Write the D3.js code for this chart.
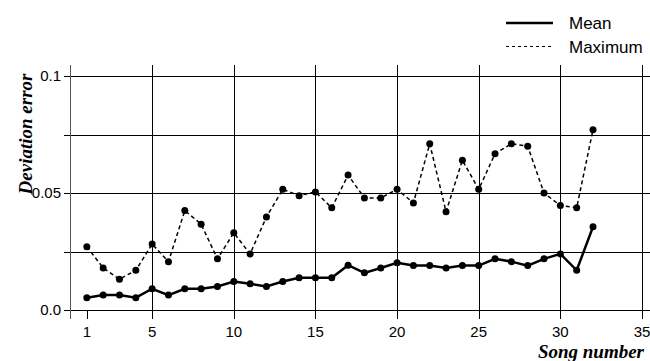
<!DOCTYPE html>
<html><head><meta charset="utf-8">
<script src="https://cdn.jsdelivr.net/npm/d3@7"></script>
<style>html,body{margin:0;padding:0;background:#fff;}svg{display:block;}</style>
</head><body><svg id="c" width="650" height="361"></svg>
<script>
const songs = d3.range(1, 33);
const meanValues = [0.0054,0.0065,0.0065,0.0054,0.0092,0.0065,0.0092,0.0092,0.0102,0.0123,
  0.0113,0.0102,0.0123,0.0139,0.0139,0.0139,0.0193,0.0160,0.0181,0.0203,
  0.0191,0.0191,0.0181,0.0191,0.0191,0.0220,0.0208,0.0191,0.0220,0.0241,0.0171,0.0357];
const maxValues = [0.0272,0.0181,0.0133,0.0171,0.0283,0.0208,0.0426,0.0368,0.0220,0.0331,
  0.0241,0.0399,0.0517,0.0490,0.0506,0.0438,0.0578,0.0480,0.0480,0.0517,
  0.0459,0.0712,0.0421,0.0641,0.0517,0.0669,0.0712,0.0701,0.0501,0.0448,0.0438,0.0772];
const xTicks = [1,5,10,15,20,25,30,35];
const xGrid = [5,10,15,20,25,30,35];
const yTicks = [0,0.05,0.1];
const yGrid = [0,0.025,0.05,0.075,0.1];
const yTickLabels = ["0.0","0.05","0.1"];
const seriesNames = ["Mean","Maximum"];

const svg = d3.select("#c");
const x = d3.scaleLinear().domain([0,35]).range([70.5,642]);
const y = d3.scaleLinear().domain([0,0.1]).range([310.3,76.3]);
const gTop = 65, gBottom = 319;

svg.append("g").selectAll("line").data(yGrid).join("line")
  .attr("x1",64).attr("x2",650)
  .attr("y1",d=>Math.round(y(d))+0.5).attr("y2",d=>Math.round(y(d))+0.5)
  .attr("stroke","#000").attr("stroke-width",1);
svg.append("g").selectAll("line").data(xGrid).join("line")
  .attr("x1",d=>Math.round(x(d))+0.5).attr("x2",d=>Math.round(x(d))+0.5)
  .attr("y1",gTop).attr("y2",gBottom)
  .attr("stroke","#000").attr("stroke-width",1);
svg.append("line").attr("x1",70.5).attr("x2",70.5).attr("y1",gTop).attr("y2",gBottom)
  .attr("stroke","#555").attr("stroke-width",1);
svg.append("line").attr("x1",Math.round(x(1))+0.5).attr("x2",Math.round(x(1))+0.5)
  .attr("y1",y(0)).attr("y2",gBottom).attr("stroke","#000");

const font = "'Liberation Sans', Arial, sans-serif";
svg.append("g").selectAll("text").data(xTicks).join("text")
  .attr("x",d=>x(d)).attr("y",337).attr("text-anchor","middle")
  .attr("font-family",font).attr("font-size",15).attr("fill","#000").text(d=>d);
svg.append("g").selectAll("text").data(yTicks).join("text")
  .attr("x",61).attr("y",d=>y(d)+5).attr("text-anchor","end")
  .attr("font-family",font).attr("font-size",15).attr("fill","#000").text((d,i)=>yTickLabels[i]);

const serif = "'Liberation Serif','Times New Roman',serif";
svg.append("text").attr("transform","translate(32,134) rotate(-90)").attr("text-anchor","middle")
  .attr("font-family",serif).attr("font-weight","bold").attr("font-style","italic").attr("font-size",19)
  .text("Deviation error");
svg.append("text").attr("x",644).attr("y",358).attr("text-anchor","end")
  .attr("font-family",serif).attr("font-weight","bold").attr("font-style","italic").attr("font-size",19)
  .text("Song number");

const line = d3.line().x((d,i)=>x(songs[i])).y(d=>y(d));
svg.append("path").datum(maxValues).attr("d",line).attr("fill","none")
  .attr("stroke","#000").attr("stroke-width",1.5).attr("stroke-dasharray","4,3");
svg.append("path").datum(meanValues).attr("d",line).attr("fill","none")
  .attr("stroke","#000").attr("stroke-width",2.5);
svg.append("g").selectAll("circle").data(maxValues).join("circle")
  .attr("cx",(d,i)=>x(songs[i])).attr("cy",d=>y(d)).attr("r",3.5).attr("fill","#000");
svg.append("g").selectAll("circle").data(meanValues).join("circle")
  .attr("cx",(d,i)=>x(songs[i])).attr("cy",d=>y(d)).attr("r",3.5).attr("fill","#000");

const leg = svg.append("g");
const legY = [23,46.5];
leg.append("line").attr("x1",506).attr("x2",553).attr("y1",legY[0]).attr("y2",legY[0])
  .attr("stroke","#000").attr("stroke-width",2.5);
leg.append("line").attr("x1",506).attr("x2",553).attr("y1",legY[1]).attr("y2",legY[1])
  .attr("stroke","#000").attr("stroke-width",1.2).attr("stroke-dasharray","3,3");
leg.selectAll("text").data(seriesNames).join("text")
  .attr("x",569).attr("y",(d,i)=>legY[i]+6).attr("font-family",font).attr("font-size",17)
  .text(d=>d);
</script></body></html>
